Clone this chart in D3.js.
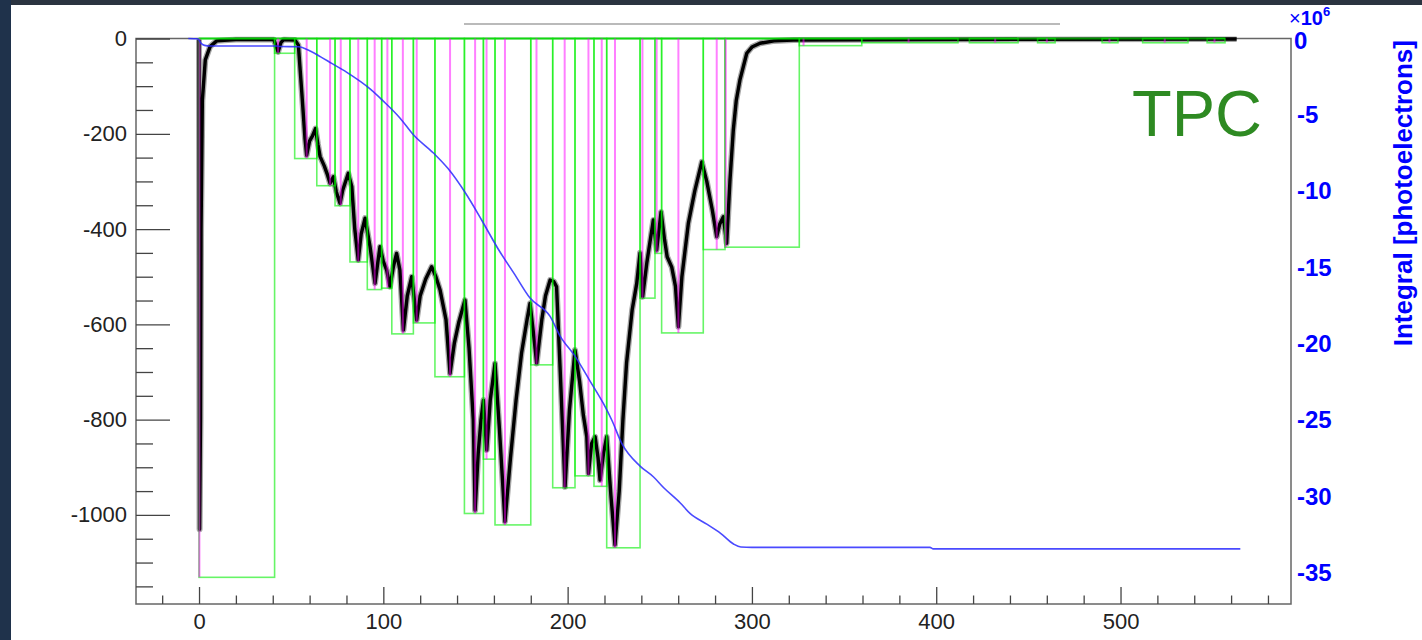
<!DOCTYPE html>
<html><head><meta charset="utf-8">
<script src="https://cdn.jsdelivr.net/npm/d3@7"></script>
<style>body{margin:0;background:#fff}svg{display:block}</style>
</head><body><svg id="c" width="1422" height="640"></svg>
<script>
// ---- data ----
const xMajorTicks = [0, 100, 200, 300, 400, 500];
const yLeftTicks = [0, -200, -400, -600, -800, -1000];
const yRightTicks = [0, -5, -10, -15, -20, -25, -30, -35];

// waveform (time, amplitude)
const traceT = [0,0.3,0.8,1.1,1.8,3.4,6,9.6,20,40.5,41.5,42.9,44.5,46,52,53.9,55.7,57.5,58.4,60,61.5,63.2,64.5,65.7,68,69.5,71.1,72.9,74.5,76.5,78,81,82.9,84.5,86.4,88,90.1,92.8,95.5,97,98.2,100,101.8,103.6,105.5,107.2,109,110.9,113,115.4,118.1,120,123,126.2,128.5,130.8,134,136.2,138.5,141,144.3,146.5,148.8,149.8,151.5,153,154.3,156.1,158,160.6,163,166,169,172,175,178,179.6,181.5,183.2,186,188,190.5,192.5,194,196,198.6,201,204,206.5,208.5,210.4,211.3,213,214.9,216.5,217.6,219.5,221.2,223.5,225.7,228,230,232,235,237.5,239.3,240.7,243,246.5,248.3,250.7,252.5,254,256.5,258.5,260.1,262,265.5,269,272.8,275.5,278.5,280.9,282.5,284.5,286.3,288.1,289.9,291.5,293.5,297.2,300,304.4,312,322.5,400,563];
const traceV = [-2,-1030,-800,-400,-130,-45,-17,-5,-2,-2,-12,-28,-8,-2,-3,-14,-110,-210,-245,-215,-205,-189,-222,-248,-268,-284,-304,-290,-322,-346,-318,-283,-311,-400,-465,-410,-377,-437,-514,-470,-437,-468,-486,-521,-478,-451,-486,-612,-540,-500,-591,-540,-505,-479,-500,-528,-590,-703,-640,-595,-549,-650,-800,-990,-870,-800,-759,-864,-760,-682,-820,-1014,-880,-760,-660,-590,-556,-620,-682,-590,-540,-507,-510,-521,-700,-941,-780,-654,-720,-790,-836,-913,-850,-836,-880,-927,-870,-836,-960,-1063,-950,-800,-680,-570,-514,-450,-542,-470,-381,-444,-364,-420,-458,-480,-520,-605,-500,-388,-320,-259,-300,-360,-416,-390,-374,-430,-297,-192,-130,-87,-31,-18,-10,-5,-3,-2,-1];

// found pulses: window start, window end, minimum, peak time
const pulseStart = [0,41,51.9,63.9,73.8,81.9,91.3,99.1,104.6,116.3,128,144,154.3,160.6,180,191.9,204,214.3,221.2,239.3,247.4,251,273.6,285.4,325.7,359.6,418,455,490,512,547];
const pulseEnd   = [41,51.9,63.9,73.8,81.9,91.3,99.1,104.6,116.3,128,144,154.3,160.6,180,191.9,204,214.3,221.2,239.3,247.4,251,273.6,285.4,325.7,359.6,411.8,444.4,464.5,498.6,536.6,556.7];
const pulseMin   = [-1131,-31,-252,-309,-351,-469,-527,-524,-620,-597,-710,-997,-883,-1021,-685,-943,-918,-940,-1069,-545,-451,-618,-443,-438,-15,-9,-9,-9,-9,-9,-9];
const pulsePeak  = [0.2,42.9,58.4,71.1,76.9,86.4,95.3,102.2,110.6,118.1,136.2,149.8,156,166,183.1,198.4,211.3,218.5,225.7,240.6,248.3,260.1,280.9,285.8,328,385,432,460,494,524,551];

// running integral (x10^6 photoelectrons)
const intT = [-5.8,-1,0,1,3,6,42,44,54,60,66,72,80,92.8,100,109,116.3,127.2,135,145,153.4,162.4,171,179.6,190.5,196,204,212,219.4,224,229.3,239.3,246.5,252,261,266.4,275.5,283,290,294,300,396.6,398.4,565];
const intV = [0,-0.02,-0.1,-0.3,-0.45,-0.49,-0.49,-0.52,-0.54,-0.8,-1.2,-1.63,-2.2,-3.3,-4.1,-5.2,-6.3,-7.5,-8.5,-10.2,-11.9,-13.8,-15.4,-17.0,-18.2,-19.5,-20.8,-22.4,-23.9,-25.0,-26.5,-28.0,-28.7,-29.4,-30.4,-31.1,-31.8,-32.4,-33.1,-33.3,-33.32,-33.32,-33.42,-33.42];

const xDomain = [-34.2, 592.5];
const yLeftDomain = [0, -1187];
const yRightDomain = [0, -37.03];

// ---- drawing ----
const W = 1422, H = 640;
const m = {left:136, right:1291, top:38.5, bottom:604};
const svg = d3.select('#c');
const FONT = "'Liberation Sans', Arial, Helvetica, sans-serif";

svg.append('rect').attr('width',W).attr('height',H).attr('fill','#fff');
svg.append('rect').attr('width',W).attr('height',5).attr('fill','#2b3440');
svg.append('rect').attr('width',11).attr('height',H).attr('fill','#1f324b');

const x = d3.scaleLinear().domain(xDomain).range([m.left, m.right]);
const yL = d3.scaleLinear().domain(yLeftDomain).range([m.top, m.bottom]);
const yR = d3.scaleLinear().domain(yRightDomain).range([m.top, m.bottom]);

svg.append('defs').append('clipPath').attr('id','clip')
  .append('rect').attr('x',m.left).attr('y',m.top-2).attr('width',m.right-m.left).attr('height',m.bottom-m.top+2);

// title underline (decoration)
svg.append('line').attr('x1',464).attr('x2',1060).attr('y1',24).attr('y2',24)
  .attr('stroke','#777').attr('stroke-width',1.2);

// frame
svg.append('rect').attr('x',m.left).attr('y',m.top).attr('width',m.right-m.left).attr('height',m.bottom-m.top)
  .attr('fill','none').attr('stroke','#666').attr('stroke-width',1.5);

const g = svg.append('g').attr('clip-path','url(#clip)');

// black waveform (noise band + core)
const trace = traceT.map((t,i)=>[t, traceV[i]]);
const traceLine = d3.line().x(d=>x(d[0])).y(d=>yL(d[1]));
g.append('path').datum(trace).attr('d', traceLine)
  .attr('fill','none').attr('stroke','#000').attr('stroke-opacity',0.35).attr('stroke-width',6).attr('stroke-linejoin','round');
g.append('path').datum(trace).attr('d', traceLine)
  .attr('fill','none').attr('stroke','#000').attr('stroke-width',3.4).attr('stroke-linejoin','round');

// green pulse windows
const pulses = pulseStart.map((s,i)=>({s, e:pulseEnd[i], mn:pulseMin[i], pk:pulsePeak[i]}));
g.append('line')
  .attr('x1', x(d3.min(pulseStart))).attr('x2', x(d3.max(pulseEnd)))
  .attr('y1', yL(0)).attr('y2', yL(0))
  .attr('stroke','#00ee00').attr('stroke-opacity',0.6).attr('stroke-width',2);
g.selectAll('rect.pw').data(pulses).join('rect').attr('class','pw')
  .attr('x', d=>x(d.s)).attr('width', d=>x(d.e)-x(d.s))
  .attr('y', yL(0)).attr('height', d=>yL(d.mn)-yL(0))
  .attr('fill','none').attr('stroke','#00ee00').attr('stroke-opacity',0.6).attr('stroke-width',1.6);

// magenta peak markers
g.selectAll('line.pk').data(pulses).join('line').attr('class','pk')
  .attr('x1', d=>x(d.pk)).attr('x2', d=>x(d.pk))
  .attr('y1', yL(0)).attr('y2', d=>yL(d.mn))
  .attr('stroke','#ff00ff').attr('stroke-opacity',0.5).attr('stroke-width',2);

// blue integral
const integ = intT.map((t,i)=>[t,intV[i]]);
g.append('path').datum(integ)
  .attr('d', d3.line().curve(d3.curveMonotoneX).x(d=>x(d[0])).y(d=>yR(d[1])))
  .attr('fill','none').attr('stroke','#2a2aff').attr('stroke-opacity',0.85).attr('stroke-width',1.6);

// ---- axes ----
const tickColor = '#444';
function styleAxis(sel){
  sel.select('.domain').remove();
  sel.selectAll('.tick line').attr('stroke',tickColor).attr('stroke-width',1.3);
}
// left
const yLeftMinor = d3.range(0, -1187, -50).filter(v=>!yLeftTicks.includes(v));
svg.append('g').attr('transform',`translate(${m.left},0)`)
  .call(d3.axisLeft(yL).tickValues(yLeftMinor).tickSize(-17).tickFormat(''))
  .call(styleAxis);
svg.append('g').attr('transform',`translate(${m.left},0)`)
  .call(d3.axisLeft(yL).tickValues(yLeftTicks).tickSize(-34).tickPadding(9).tickFormat(d=>d))
  .call(styleAxis)
  .call(s=>s.selectAll('text').attr('font-family',FONT).attr('font-size',22).attr('fill','#222'));
// bottom
const xMinor = d3.range(-20, 592, 20).filter(v=>!xMajorTicks.includes(v));
svg.append('g').attr('transform',`translate(0,${m.bottom})`)
  .call(d3.axisBottom(x).tickValues(xMinor).tickSize(-8.5).tickFormat(''))
  .call(styleAxis);
svg.append('g').attr('transform',`translate(0,${m.bottom})`)
  .call(d3.axisBottom(x).tickValues(xMajorTicks).tickSize(-17).tickPadding(9).tickFormat(d=>d))
  .call(styleAxis)
  .call(s=>s.selectAll('text').attr('font-family',FONT).attr('font-size',22).attr('fill','#222'));
// right
svg.append('g').attr('transform',`translate(${m.right},0)`)
  .call(d3.axisRight(yR).tickValues(yRightTicks).tickSize(0).tickPadding(6).tickFormat(d=>d))
  .call(styleAxis)
  .call(s=>s.selectAll('text').attr('font-family',FONT).attr('font-size',24).attr('font-weight','bold').attr('fill','#0000ff'))
  .call(s=>s.selectAll('.tick').filter(d=>d===0).select('text').attr('x',3).attr('dy','0.42em'));

// x10^6 exponent
const ex = svg.append('text').attr('x',1289).attr('y',25).attr('font-family',FONT).attr('fill','#0000ff');
ex.append('tspan').attr('font-size',20).text('×');
ex.append('tspan').attr('font-size',20).attr('font-weight','bold').text('10');
ex.append('tspan').attr('font-size',13).attr('font-weight','bold').attr('dy',-9).text('6');

// right axis title
svg.append('text').attr('transform','translate(1412,40) rotate(-90)')
  .attr('text-anchor','end').attr('font-family',FONT).attr('font-size',26).attr('font-weight','bold')
  .attr('fill','#0000ff').text('Integral [photoelectrons]');

// TPC label
svg.append('text').attr('x',1132).attr('y',136).attr('font-family',FONT).attr('font-size',65)
  .attr('fill','#2e8a22').text('TPC');
</script></body></html>
